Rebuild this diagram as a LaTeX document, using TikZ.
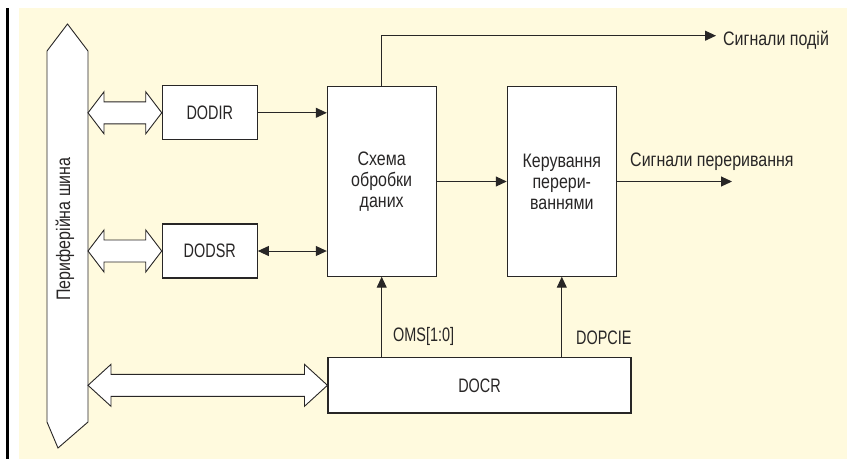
\documentclass[tikz,border=0pt]{standalone}
\usepackage{fontspec}
\setmainfont{Liberation Sans}
\newfontfamily\latfont{Liberation Sans}[FakeStretch=0.74]
\newfontfamily\cyrfont{Liberation Sans}[FakeStretch=0.82]
\usetikzlibrary{arrows.meta,calc}
\definecolor{cream}{RGB}{255,250,222}
\definecolor{ink}{RGB}{40,38,38}
\begin{document}
\begin{tikzpicture}[x=1pt,y=-1pt,
  txt/.style={text=ink,font=\fontsize{19.5}{21}\selectfont},
  box/.style={txt,draw=ink,fill=white,line width=1.1pt,inner sep=0pt,align=center},
  lbl/.style={txt,inner sep=0pt},
  sig/.style={draw=ink,line width=1pt,-{Triangle[length=11pt,width=10pt]}},
  sigboth/.style={draw=ink,line width=1pt,{Triangle[length=11pt,width=10pt]}-{Triangle[length=11pt,width=10pt]}},
  busline/.style={draw=ink,fill=white,line width=0.9pt,line join=miter},
  % wide hollow two-headed arrow between the bus and a register
  fat/.style={to path={let \p1=(\tikztostart),\p2=(\tikztotarget) in
    (\x1,\y1) -- (\x1+#1pt,\y1+21pt) -- (\x1+#1pt,\y1+11pt) -- (\x2-#1pt,\y1+11pt)
    -- (\x2-#1pt,\y1+21pt) -- (\x2,\y1) -- (\x2-#1pt,\y1-21pt) -- (\x2-#1pt,\y1-11pt)
    -- (\x1+#1pt,\y1-11pt) -- (\x1+#1pt,\y1-21pt) -- cycle}}
]
\useasboundingbox (0,0) rectangle (847,459);
\fill[cream] (19,8) rectangle (847,459);
\draw[black,line width=2.6pt] (7.4,8) -- (7.4,459);

% peripheral bus
\draw[busline] (47,51) -- (67.5,24) -- (88,51) -- (88,422) -- (58,448) -- (47,422) -- cycle;
\coordinate (busR) at (88,229);
\node[lbl,rotate=90] (buslbl) at (65,229) {\cyrfont Периферійна шина};

% blocks
\node[box,minimum width=95pt,minimum height=54pt] (dodir) at (209.8,112.8) {\latfont DODIR};
\node[box,minimum width=95pt,minimum height=54pt] (dodsr) at (209.8,251) {\latfont DODSR};
\node[box,minimum width=108.7pt,minimum height=189.3pt] (schema) at (381.7,181.5)
  {\cyrfont Схема\\\cyrfont обробки\\\cyrfont даних};
\node[box,minimum width=109pt,minimum height=189.3pt] (keruv) at (561.8,181.5)
  {\cyrfont Керування\\\cyrfont перери-\\\cyrfont ваннями};
\node[box,minimum width=303pt,minimum height=55.3pt] (docr) at (479.5,385.3) {\latfont DOCR};

% bus links
\draw[busline] (busR |- dodir.west) to[fat=16] (dodir.west);
\draw[busline] (busR |- dodsr.west) to[fat=16] (dodsr.west);
\draw[busline] (busR |- docr.west) to[fat=23] (docr.west);

% signal lines
\coordinate (evout) at (716,35.7);
\coordinate (irqout) at (732,181.5);
\draw[sig] (dodir.east) -- (schema.west |- dodir.east);
\draw[sigboth] (dodsr.east) -- (schema.west |- dodsr.east);
\draw[sig] (schema.east) -- (keruv.west);
\draw[sig] (keruv.east) -- (irqout);
\draw[sig] (schema.north) |- (evout);
\draw[sig] (docr.north -| schema.south) -- (schema.south);
\draw[sig] (docr.north -| keruv.south) -- (keruv.south);

% labels
\node[lbl,anchor=base west] (evlbl) at (723,45) {\cyrfont Сигнали подій};
\node[lbl,anchor=base west] (irqlbl) at (630,166.7) {\cyrfont Сигнали переривання};
\node[lbl,anchor=base west] (omslbl) at (393,341.7) {\latfont OMS[1:0]};
\node[lbl,anchor=base west] (dopcielbl) at (576,344.3) {\latfont DOPCIE};
\end{tikzpicture}
\end{document}
